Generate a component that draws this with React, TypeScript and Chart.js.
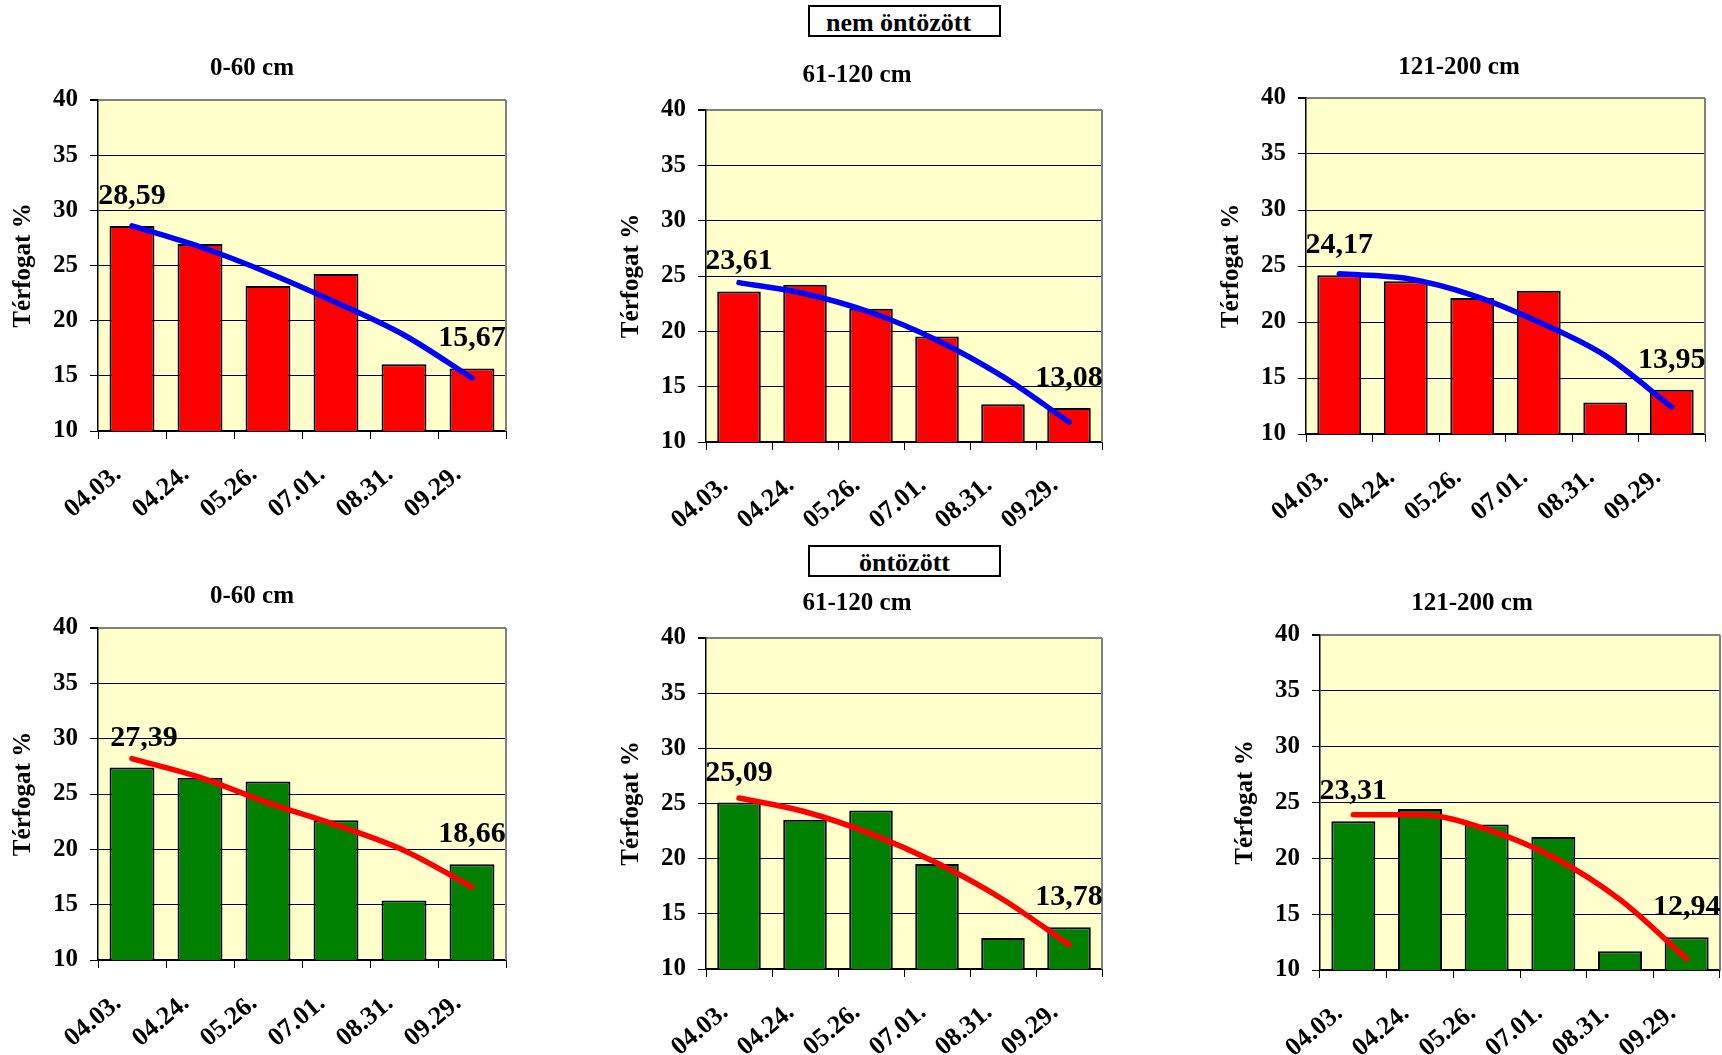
import React, { useEffect, useRef } from 'react';
import { Chart, registerables } from 'chart.js';

Chart.register(...registerables);

const SERIF = '"Liberation Serif", "Times New Roman", Times, serif';

// Mérési időpontok
const dates = ['04.03.', '04.24.', '05.26.', '07.01.', '08.31.', '09.29.'];

// Függőleges tengely (térfogat %)
const yMin = 10;
const yMax = 40;
const yStep = 5;
const yAxisTitle = 'Térfogat %';

// nem öntözött – rétegenkénti nedvességtartalom
const dry0to60 = [28.59, 26.95, 23.15, 24.23, 16.06, 15.67];
const dry61to120 = [23.61, 24.22, 22.03, 19.53, 13.41, 13.08];
const dry121to200 = [24.17, 23.63, 22.15, 22.8, 12.82, 13.95];

// nem öntözött – polinomiális trend
const dryTrend0to60 = [28.6, 26.7, 24.35, 21.65, 18.7, 14.8];
const dryTrend61to120 = [24.4, 23.4, 21.7, 19.2, 15.9, 11.8];
const dryTrend121to200 = [24.3, 23.9, 22.4, 20.0, 17.0, 12.4];

// öntözött – rétegenkénti nedvességtartalom
const wet0to60 = [27.39, 26.46, 26.13, 22.63, 15.37, 18.66];
const wet61to120 = [25.09, 23.52, 24.37, 19.51, 12.81, 13.78];
const wet121to200 = [23.31, 24.42, 23.04, 21.9, 11.67, 12.94];

// öntözött – polinomiális trend
const wetTrend0to60 = [28.2, 26.5, 24.2, 22.2, 19.9, 16.6];
const wetTrend61to120 = [25.5, 24.25, 22.25, 19.6, 16.3, 12.2];
const wetTrend121to200 = [23.9, 23.9, 22.6, 20.1, 16.3, 11.0];

const DRY_BAR = '#FF0000';
const DRY_TREND = '#0000FF';
const WET_BAR = '#008000';
const WET_TREND = '#FF0000';

// Canvas geometry around each plot area
const Y_AXIS_W = 97;
const X_AXIS_H = 95;
const PAD_TOP = 50;
const PAD_RIGHT = 10;

type PanelDef = {
  key: string;
  title: string;
  bars: number[];
  trend: number[];
  barColor: string;
  trendColor: string;
  plot: { l: number; t: number; r: number; b: number };
  titleAt: [number, number];
  labelShift: [number, number];
};

const panels: PanelDef[] = [
  { key: 'd1', title: '0-60 cm', bars: dry0to60, trend: dryTrend0to60, barColor: DRY_BAR, trendColor: DRY_TREND,
    plot: { l: 98, t: 100, r: 506, b: 431 }, titleAt: [252, 69], labelShift: [0, 0] },
  { key: 'd2', title: '61-120 cm', bars: dry61to120, trend: dryTrend61to120, barColor: DRY_BAR, trendColor: DRY_TREND,
    plot: { l: 706, t: 110, r: 1102, b: 442 }, titleAt: [857, 76], labelShift: [0, 0] },
  { key: 'd3', title: '121-200 cm', bars: dry121to200, trend: dryTrend121to200, barColor: DRY_BAR, trendColor: DRY_TREND,
    plot: { l: 1306, t: 98, r: 1705, b: 434 }, titleAt: [1459, 68], labelShift: [0, 0] },
  { key: 'w1', title: '0-60 cm', bars: wet0to60, trend: wetTrend0to60, barColor: WET_BAR, trendColor: WET_TREND,
    plot: { l: 98, t: 628, r: 506, b: 960 }, titleAt: [252, 597], labelShift: [12, 0] },
  { key: 'w2', title: '61-120 cm', bars: wet61to120, trend: wetTrend61to120, barColor: WET_BAR, trendColor: WET_TREND,
    plot: { l: 706, t: 638, r: 1102, b: 969 }, titleAt: [857, 604], labelShift: [0, 0] },
  { key: 'w3', title: '121-200 cm', bars: wet121to200, trend: wetTrend121to200, barColor: WET_BAR, trendColor: WET_TREND,
    plot: { l: 1320, t: 635, r: 1720, b: 970 }, titleAt: [1472, 604], labelShift: [0, 0] },
];

function formatHu(v: number) {
  return v.toFixed(2).replace('.', ',');
}

function Panel({ p }: { p: PanelDef }) {
  const ref = useRef<HTMLCanvasElement | null>(null);
  const left = p.plot.l - Y_AXIS_W;
  const top = p.plot.t - PAD_TOP;
  const width = Y_AXIS_W + (p.plot.r - p.plot.l) + PAD_RIGHT;
  const height = PAD_TOP + (p.plot.b - p.plot.t) + X_AXIS_H;

  useEffect(() => {
    const canvas = ref.current;
    if (!canvas) return;

    const decor = {
      id: 'panelDecor',
      beforeDraw(chart: any) {
        const { ctx, chartArea: a } = chart;
        ctx.save();
        ctx.fillStyle = '#FFFFCC';
        ctx.fillRect(a.left, a.top, a.right - a.left, a.bottom - a.top);
        ctx.restore();
      },
      beforeDatasetsDraw(chart: any) {
        const { ctx, chartArea: a } = chart;
        ctx.save();
        ctx.strokeStyle = '#808080';
        ctx.lineWidth = 2;
        ctx.beginPath();
        ctx.moveTo(a.right, a.top);
        ctx.lineTo(a.right, a.bottom);
        ctx.stroke();
        ctx.restore();
      },
      afterDatasetsDraw(chart: any) {
        const { ctx } = chart;
        const meta = chart.getDatasetMeta(1);
        const last = p.bars.length - 1;
        ctx.save();
        ctx.fillStyle = '#000';
        ctx.font = `bold 30px ${SERIF}`;
        ctx.textAlign = 'center';
        ctx.textBaseline = 'alphabetic';
        [0, last].forEach((i, k) => {
          const el = meta.data[i];
          ctx.fillText(formatHu(p.bars[i]), el.x + p.labelShift[k], el.y - 22);
        });
        ctx.font = `bold 25px ${SERIF}`;
        ctx.textBaseline = 'middle';
        ctx.fillText(p.title, p.titleAt[0] - left, p.titleAt[1] - top);
        ctx.restore();
      },
    };

    const chart = new Chart(canvas, {
      type: 'bar',
      data: {
        labels: dates,
        datasets: [
          {
            type: 'line',
            data: p.trend,
            borderColor: p.trendColor,
            borderWidth: 5.5,
            pointRadius: 0,
            cubicInterpolationMode: 'monotone',
            borderCapStyle: 'round',
            borderJoinStyle: 'round',
            fill: false,
            order: 0,
          } as any,
          {
            type: 'bar',
            data: p.bars,
            backgroundColor: p.barColor,
            borderColor: '#000',
            borderWidth: 2,
            borderSkipped: 'bottom',
            barPercentage: 0.66,
            categoryPercentage: 1,
            order: 1,
          } as any,
        ],
      },
      options: {
        animation: false,
        responsive: false,
        devicePixelRatio: 1,
        layout: { padding: { top: PAD_TOP, right: PAD_RIGHT, left: 0, bottom: 0 } },
        plugins: {
          legend: { display: false },
          tooltip: { enabled: false },
          title: { display: false },
        },
        scales: {
          x: {
            type: 'category',
            offset: true,
            afterFit: (s: any) => { s.height = X_AXIS_H; },
            grid: {
              offset: true,
              drawOnChartArea: false,
              drawTicks: true,
              tickLength: 8,
              color: '#000',
              lineWidth: 1,
            },
            border: { display: true, color: '#000', width: 1.5 },
            ticks: {
              autoSkip: false,
              minRotation: 40,
              maxRotation: 40,
              labelOffset: -14,
              padding: 20,
              color: '#000',
              font: { family: SERIF, size: 26, weight: 'bold' },
            },
          },
          y: {
            min: yMin,
            max: yMax,
            afterFit: (s: any) => { s.width = Y_AXIS_W; },
            ticks: {
              stepSize: yStep,
              padding: 12,
              color: '#000',
              font: { family: SERIF, size: 25, weight: 'bold' },
            },
            grid: {
              drawTicks: true,
              tickLength: 8,
              tickColor: '#000',
              color: (c: any) => (c.tick && c.tick.value === yMax ? '#808080' : '#000'),
              lineWidth: (c: any) => (c.tick && c.tick.value === yMax ? 2 : 1),
            },
            border: { display: true, color: '#000', width: 1.5 },
            title: {
              display: true,
              text: yAxisTitle,
              color: '#000',
              font: { family: SERIF, size: 25, weight: 'bold' },
              padding: { top: 8, bottom: 0 },
            },
          },
        },
      } as any,
      plugins: [decor],
    });
    return () => chart.destroy();
  }, []);

  return (
    <canvas
      ref={ref}
      width={width}
      height={height}
      style={{ position: 'absolute', left, top, width, height }}
    />
  );
}

function GroupLabel({ text, top, shift }: { text: string; top: number; shift: number }) {
  return (
    <div
      style={{
        position: 'absolute',
        left: 808,
        top,
        width: 193,
        height: 32,
        border: '2px solid #000',
        boxSizing: 'border-box',
        display: 'flex',
        alignItems: 'center',
        justifyContent: 'center',
        paddingTop: 3,
        paddingRight: shift,
        font: `bold 26px ${SERIF}`,
        color: '#000',
        background: '#fff',
      }}
    >
      {text}
    </div>
  );
}

export default function App() {
  return (
    <div
      style={{
        position: 'absolute',
        left: 0,
        top: 0,
        width: 1722,
        height: 1055,
        overflow: 'hidden',
        background: '#fff',
      }}
    >
      <GroupLabel text="nem öntözött" top={5} shift={12} />
      <GroupLabel text="öntözött" top={545} shift={0} />
      {panels.map((p) => (
        <Panel key={p.key} p={p} />
      ))}
    </div>
  );
}
